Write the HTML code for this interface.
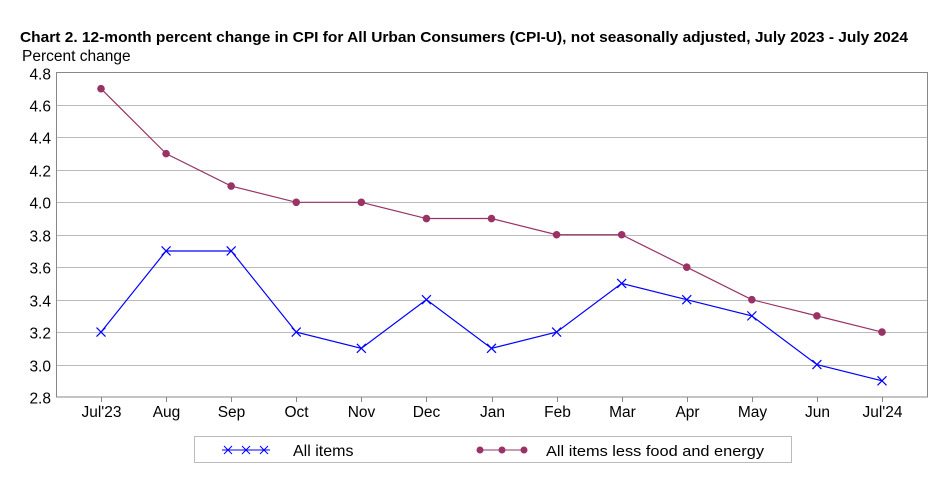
<!DOCTYPE html>
<html><head><meta charset="utf-8"><style>
body{margin:0;background:#fff;}
svg{display:block;font-family:"Liberation Sans",sans-serif;}
</style></head><body>
<svg id="chart" width="949" height="496">
<text x="20" y="42" font-size="15" font-weight="bold" fill="#000" textLength="888" lengthAdjust="spacingAndGlyphs">Chart 2. 12-month percent change in CPI for All Urban Consumers (CPI-U), not seasonally adjusted, July 2023 - July 2024</text>
<text x="22" y="61" font-size="15.5" fill="#000">Percent change</text>
<g id="grid"></g><g id="axes"></g><g id="series"></g>
<g>
<rect x="194.5" y="436.5" width="597" height="26" fill="#fff" stroke="#bbb"/>
<line x1="222" y1="450" x2="270" y2="450" stroke="#0000ff"/>
<path d="M224 446l8 8M232 446l-8 8M242 446l8 8M250 446l-8 8M260 446l8 8M268 446l-8 8" stroke="#0000ff"/>
<text x="293" y="456" font-size="16">All items</text>
<line x1="478" y1="450" x2="526" y2="450" stroke="#993366"/>
<circle cx="480" cy="450" r="3.5" fill="#993366"/><circle cx="502" cy="450" r="3.5" fill="#993366"/><circle cx="524" cy="450" r="3.5" fill="#993366"/>
<text x="546" y="456" font-size="15" textLength="218" lengthAdjust="spacingAndGlyphs">All items less food and energy</text>
</g>
</svg>
<script>
const categories=["Jul'23","Aug","Sep","Oct","Nov","Dec","Jan","Feb","Mar","Apr","May","Jun","Jul'24"];
const allItems=[3.2,3.7,3.7,3.2,3.1,3.4,3.1,3.2,3.5,3.4,3.3,3.0,2.9];
const coreItems=[4.7,4.3,4.1,4.0,4.0,3.9,3.9,3.8,3.8,3.6,3.4,3.3,3.2];
const yTicks=[2.8,3.0,3.2,3.4,3.6,3.8,4.0,4.2,4.4,4.6,4.8];
const NS="http://www.w3.org/2000/svg";
const L=56,R=927,T=72.5,B=397;
const yMin=2.8,yMax=4.8;
function y(v){return B-(v-yMin)/(yMax-yMin)*(B-T);}
function x(i){return 101+i*(882-101)/(categories.length-1);}
function mk(tag,attrs,parent){const e=document.createElementNS(NS,tag);for(const k in attrs)e.setAttribute(k,attrs[k]);parent.appendChild(e);return e;}
const grid=document.getElementById('grid'),axes=document.getElementById('axes'),series=document.getElementById('series');
yTicks.forEach(v=>{
  const yy=Math.round(y(v))+0.5;
  if(v>yMin&&v<yMax){const g=mk('line',{x1:L,x2:R,y1:yy,y2:yy,stroke:'#bbb'},grid);
  
  }
  const t=mk('text',{x:L-5,y:yy+6,'font-size':15.5,'text-anchor':'end'},axes);t.textContent=v.toFixed(1);
  
  
});
const fr=mk('rect',{x:L+0.5,y:T,width:R-L,height:B-T,fill:'none',stroke:'#888'},axes);


categories.forEach((c,i)=>{
  const xx=Math.round(x(i))+0.5;
  mk('line',{x1:xx,x2:xx,y1:B,y2:B+5,stroke:'#888'},axes);
  const t=mk('text',{x:xx,y:B+20,'font-size':15.5,'text-anchor':'middle'},axes);t.textContent=c;
  
  
});
const p1=mk('polyline',{points:allItems.map((v,i)=>x(i)+','+y(v)).join(' '),fill:'none',stroke:'#0000ff','stroke-width':1.2},series);


allItems.forEach((v,i)=>{const cx=x(i),cy=y(v);
  const m=mk('path',{d:`M${cx-4.5} ${cy-4.5}l9 9M${cx+4.5} ${cy-4.5}l-9 9`,stroke:'#0000ff','stroke-width':1.2},series);
  
  
});
const p2=mk('polyline',{points:coreItems.map((v,i)=>x(i)+','+y(v)).join(' '),fill:'none',stroke:'#993366','stroke-width':1.2},series);


coreItems.forEach((v,i)=>{
  const m=mk('circle',{cx:x(i),cy:y(v),r:3.8,fill:'#993366'},series);
  
  
});
</script>
</body></html>
